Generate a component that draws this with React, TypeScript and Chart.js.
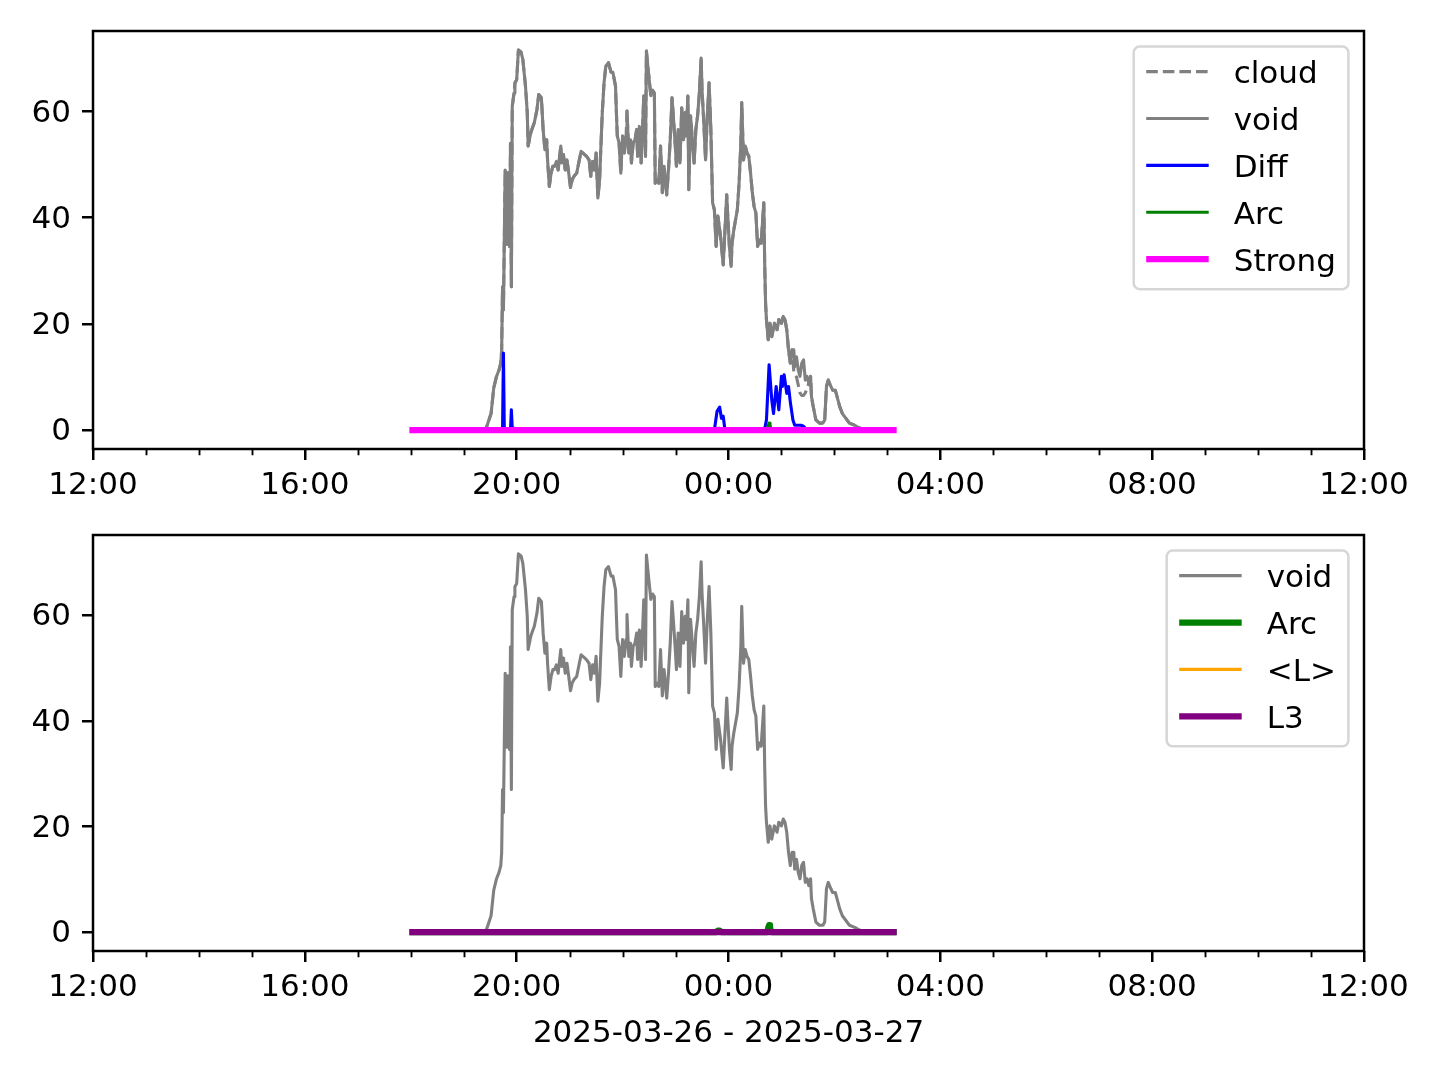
import React, { useEffect, useRef } from "react";
import { Chart, registerables } from "chart.js";

Chart.register(...registerables);

const FONT_FAMILY = "'DejaVu Sans', sans-serif";
const FONT_SIZE = 31;

// ---------------- data ----------------
const voidTimes = [
  "18:02", "19:24", "19:26", "19:31", "19:34", "19:37", "19:40", "19:42", "19:43", "19:44",
  "19:45", "19:47", "19:49", "19:50", "19:52", "19:53", "19:54", "19:55", "19:57", "19:58",
  "20:00", "20:02", "20:05", "20:07", "20:10", "20:12", "20:13", "20:16", "20:18", "20:20",
  "20:23", "20:25", "20:28", "20:30", "20:32", "20:34", "20:35", "20:37", "20:39", "20:41",
  "20:43", "20:45", "20:47", "20:50", "20:51", "20:53", "20:55", "20:57", "20:59", "21:01",
  "21:03", "21:05", "21:08", "21:11", "21:13", "21:17", "21:19", "21:22", "21:24", "21:26",
  "21:28", "21:30", "21:32", "21:34", "21:35", "21:37", "21:39", "21:41", "21:44", "21:47",
  "21:49", "21:52", "21:53", "21:54", "21:56", "21:58", "22:00", "22:02", "22:04", "22:05",
  "22:07", "22:09", "22:10", "22:12", "22:14", "22:16", "22:17", "22:19", "22:21", "22:23",
  "22:24", "22:26", "22:27", "22:29", "22:32", "22:34", "22:36", "22:37", "22:40", "22:41",
  "22:43", "22:45", "22:47", "22:50", "22:52", "22:54", "22:56", "22:58", "23:00", "23:01",
  "23:03", "23:05", "23:07", "23:09", "23:11", "23:12", "23:14", "23:15", "23:17", "23:19",
  "23:21", "23:23", "23:25", "23:27", "23:29", "23:30", "23:32", "23:34", "23:36", "23:38",
  "23:40", "23:42", "23:44", "23:46", "23:48", "23:51", "23:54", "23:56", "23:58", "23:59",
  "00:01", "00:03", "00:04", "00:06", "00:08", "00:10", "00:12", "00:14", "00:15", "00:17",
  "00:19", "00:21", "00:23", "00:25", "00:27", "00:29", "00:31", "00:33", "00:35", "00:37",
  "00:38", "00:40", "00:41", "00:42", "00:43", "00:45", "00:47", "00:49", "00:52", "00:55",
  "00:57", "01:00", "01:02", "01:04", "01:06", "01:08", "01:10", "01:12", "01:14", "01:15",
  "01:17", "01:19", "01:21", "01:23", "01:25", "01:27", "01:29", "01:31", "01:33", "01:34",
  "01:36", "01:39", "01:43", "01:47", "01:49", "01:51", "01:53", "01:56", "01:58", "02:01",
  "02:03", "02:06", "02:09", "02:13", "02:17", "02:23", "02:26", "02:31", "02:40", "03:07",
];
const voidValues = [
  0, 0, 0.6, 3.1, 7.9, 10, 11.3, 12.6, 15, 27,
  22.6, 49, 35, 48.5, 34.6, 54, 27, 61, 63.5, 65.4,
  66, 71.6, 71.2, 69.8, 64.8, 59.8, 53.5, 56, 57, 57.9,
  60.4, 63.2, 62.6, 56.6, 52.8, 54.7, 50.9, 45.9, 48.4, 49.7,
  49.7, 50.6, 49, 53.5, 50.3, 51.9, 49, 50.9, 48.4, 45.7,
  47.2, 47.8, 48.4, 50.9, 52.5, 51.9, 51.6, 50.9, 47.8, 50.6,
  49, 52.2, 43.7, 47.2, 51.6, 59.8, 65.4, 68.6, 69.2, 67.4,
  67.4, 64.8, 59.8, 55.4, 54.1, 48.4, 55.4, 52.2, 55.4, 60.1,
  52.2, 54.7, 50.3, 54.1, 54.7, 56.6, 51.6, 57.2, 50.3, 58.5,
  62.9, 51.6, 71.4, 67.9, 63, 64, 63.5, 46.5, 47.2, 46.5,
  53.5, 44.7, 49.7, 44.3, 49, 54.7, 62.6, 57.9, 52.8, 49.7,
  56.6, 50.3, 60.7, 54.7, 59.8, 55.4, 62.9, 45.3, 59.2, 54.7,
  50.3, 56.6, 59.2, 63.5, 70.1, 64.2, 57.9, 50.9, 59.2, 65.4,
  56.6, 42.8, 41.5, 34.6, 40.3, 36.5, 31.1, 37.7, 44.3, 40.9,
  34.6, 30.8, 35.2, 37.7, 39.6, 41.5, 46.5, 54.1, 61.7, 50.9,
  53.5, 52.2, 51.6, 48.4, 44.7, 42.1, 40.9, 34.6, 35.8, 35.2,
  37.7, 42.8, 31.4, 23.9, 20.8, 17, 20.1, 17.6, 20.1, 18.9,
  20.8, 20.1, 21.4, 20.8, 18.9, 15.1, 12.6, 15.1, 15.1, 11.9,
  13.8, 11.3, 10.1, 12.6, 13.2, 9.4, 10.1, 8.8, 10.1, 6.3,
  4.4, 1.9, 1.3, 1.3, 1.9, 8.2, 9.4, 8.2, 7.5, 7.5,
  6.3, 4.4, 3.1, 2.2, 1.3, 0.9, 0.6, 0.2, 0, 0,
];
// cloud shares void's time stamps
const cloudValues = [
  0, 0, 0.6, 3.1, 7.9, 10, 11.3, 12.6, 15, 27,
  22.6, 49, 35, 48.5, 34.6, 54, 27, 61, 63.5, 65.4,
  66, 71.6, 71.2, 69.8, 64.8, 59.8, 53.5, 56, 57, 57.9,
  60.4, 63.2, 62.6, 56.6, 52.8, 54.7, 50.9, 45.9, 48.4, 49.7,
  49.7, 50.6, 49, 53.5, 50.3, 51.9, 49, 50.9, 48.4, 45.7,
  47.2, 47.8, 48.4, 50.9, 52.5, 51.9, 51.6, 50.9, 47.8, 50.6,
  49, 52.2, 43.7, 47.2, 51.6, 59.8, 65.4, 68.6, 69.2, 67.4,
  67.4, 64.8, 59.8, 55.4, 54.1, 48.4, 55.4, 52.2, 55.4, 60.1,
  52.2, 54.7, 50.3, 54.1, 54.7, 56.6, 51.6, 57.2, 50.3, 58.5,
  62.9, 51.6, 71.4, 67.9, 63, 64, 63.5, 46.5, 47.2, 46.5,
  53.5, 44.7, 49.7, 44.3, 49, 54.7, 62.6, 57.9, 52.8, 49.7,
  56.6, 50.3, 60.7, 54.7, 59.8, 55.4, 62.9, 45.3, 59.2, 54.7,
  50.3, 56.6, 59.2, 63.5, 70.1, 64.2, 57.9, 50.9, 59.2, 65.4,
  56.6, 42.8, 41.5, 34.6, 40.3, 36.5, 31.1, 37.7, 44.3, 40.9,
  34.6, 30.8, 35.2, 37.7, 39.6, 41.5, 46.5, 54.1, 61.7, 50.9,
  53.5, 52.2, 51.6, 48.4, 44.7, 42.1, 40.9, 34.6, 35.8, 35.2,
  37.7, 42.8, 31.4, 23.9, 20.8, 17, 20.1, 17.6, 20.1, 18.9,
  20.8, 20.1, 21.4, 20.8, 18.9, 15.1, 12.6, 15.1, 11, 10.5,
  10, 8.5, 7, 6.5, 6.5, 7, 7.8, 8.8, 10.1, 6.3,
  4.4, 1.9, 1.3, 1.3, 1.9, 8.2, 9.4, 8.2, 7.5, 7.5,
  6.3, 4.4, 3.1, 2.2, 1.3, 0.9, 0.6, 0.2, 0, 0,
];

const diffTimes = [
  "18:02", "19:44", "19:45", "19:46", "19:53", "19:54", "19:55", "19:57", "19:58",
  "23:44", "23:47", "23:50", "23:52", "23:54", "23:56",
  "00:41", "00:43", "00:46", "00:49", "00:51", "00:54", "00:57", "01:00", "01:01", "01:03",
  "01:06", "01:08", "01:10", "01:13", "01:15", "01:22", "01:25", "01:29", "03:07",
];
const diffValues = [
  0, 0, 14.5, 0, 0, 3.8, 0.3, 0.3, 0,
  0, 3.5, 4.3, 2.2, 2.6, 0,
  0.2, 1.9, 12.3, 5.7, 3.1, 8.2, 3.8, 10.1, 8.2, 10.4,
  6.9, 8.2, 5.3, 1.9, 0.9, 0.9, 0.7, 0, 0,
];

const arcTimes = ["18:02", "23:46", "23:48", "23:50", "23:52", "00:44", "00:45", "00:46", "00:47", "00:48", "00:49", "03:07"];
const arcValues = [0, 0, 0.3, 0.3, 0, 0, 0.8, 1.3, 1.0, 0.2, 0, 0];

const flatTimes = ["18:02", "03:07"];
const strongValues = [0, 0];
const meanLValues = [0, 0];
const l3Values = [0, 0];

const xTickHours = [0, 4, 8, 12, 16, 20, 24]; // hours after 12:00 on 2025-03-26
const xMinorHours = [1, 2, 3, 5, 6, 7, 9, 10, 11, 13, 14, 15, 17, 18, 19, 21, 22, 23];
const yTickValues = [0, 20, 40, 60];
const xAxisTitle = "2025-03-26 - 2025-03-27";

// ---------------- helpers ----------------
const GRAY = "#808080";
const BLUE = "#0000ff";
const GREEN = "#008000";
const MAGENTA = "#ff00ff";
const ORANGE = "#ffa500";
const PURPLE = "#800080";

function toHours(t: string): number {
  const [h, m] = t.split(":").map(Number);
  let v = h + m / 60 - 12;
  if (v < 0) v += 24;
  return v;
}
function series(times: string[], values: number[]) {
  return times.map((t, i) => ({ x: toHours(t), y: values[i] }));
}
function fmtHour(v: number): string {
  const c = (12 + Math.round(v)) % 24;
  return String(c).padStart(2, "0") + ":00";
}

const allValues = [...voidValues, ...cloudValues, ...diffValues, ...arcValues, ...strongValues, ...meanLValues, ...l3Values];
const dMin = Math.min(...allValues);
const dMax = Math.max(...allValues);
const Y_MIN = dMin - (dMax - dMin) * 0.05;
const Y_MAX = dMax + (dMax - dMin) * 0.05;

function line(label: string, data: any[], color: string, width: number, extra: any = {}) {
  return {
    label,
    data,
    borderColor: color,
    backgroundColor: color,
    borderWidth: width,
    pointRadius: 0,
    pointHoverRadius: 0,
    tension: 0,
    fill: false,
    borderJoinStyle: "round",
    borderCapStyle: "square",
    ...extra,
  };
}

const LW1 = 3.1;
const LW2 = 6.25;

const decorPlugin = {
  id: "mplDecor",
  afterDraw(chart: any) {
    const { ctx, chartArea: a, scales } = chart;
    const xs = scales.x;
    ctx.save();
    // minor x ticks
    ctx.strokeStyle = "#000";
    ctx.lineWidth = 1.9;
    for (const h of xMinorHours) {
      const px = Math.round(xs.getPixelForValue(h)) + 0.5;
      ctx.beginPath();
      ctx.moveTo(px, a.bottom);
      ctx.lineTo(px, a.bottom + 6.25);
      ctx.stroke();
    }
    // axes frame
    ctx.lineWidth = 2.5;
    ctx.strokeRect(a.left, a.top, a.right - a.left, a.bottom - a.top);

    // legend
    const ds = chart.data.datasets;
    ctx.font = `${FONT_SIZE}px ${FONT_FAMILY}`;
    let textW = 0;
    for (const d of ds) textW = Math.max(textW, ctx.measureText(d.label).width);
    const pad = 12.5, handleLen = 62.5, handleGap = 25, step = 46.9;
    const boxW = pad + handleLen + handleGap + textW + pad;
    const boxH = 25 + (ds.length - 1) * step + 30;
    const right = a.right - 15.6;
    const left = right - boxW;
    const top = a.top + 15.6;
    ctx.beginPath();
    (ctx as any).roundRect(left, top, boxW, boxH, 6);
    ctx.fillStyle = "rgba(255,255,255,0.8)";
    ctx.fill();
    ctx.strokeStyle = "rgba(204,204,204,0.8)";
    ctx.lineWidth = 2.5;
    ctx.stroke();
    ds.forEach((d: any, i: number) => {
      const y = top + 25 + i * step;
      ctx.beginPath();
      ctx.strokeStyle = d.borderColor;
      ctx.lineWidth = d.borderWidth;
      ctx.lineCap = "butt";
      ctx.setLineDash(d.borderDash || []);
      ctx.moveTo(left + pad, y);
      ctx.lineTo(left + pad + handleLen, y);
      ctx.stroke();
      ctx.setLineDash([]);
      ctx.fillStyle = "#000";
      ctx.textAlign = "left";
      ctx.textBaseline = "alphabetic";
      ctx.fillText(d.label, left + pad + handleLen + handleGap, y + 11.4);
    });
    ctx.restore();
  },
};

function makeConfig(datasets: any[], padTop: number, xHeight: number, withTitle: boolean) {
  const font = { family: FONT_FAMILY, size: FONT_SIZE };
  const grid = {
    display: true,
    drawOnChartArea: false,
    drawTicks: true,
    tickLength: 11,
    tickWidth: 2.5,
    tickColor: "#000",
    color: "#000",
    lineWidth: 2.5,
  };
  return {
    type: "line",
    data: { datasets: datasets.map((d, i, arr) => ({ ...d, order: arr.length - i })) },
    plugins: [decorPlugin],
    options: {
      animation: false,
      responsive: false,
      devicePixelRatio: 1,
      events: [],
      parsing: true,
      layout: { padding: { top: padTop, right: 76, left: 0, bottom: 0 } },
      plugins: { legend: { display: false }, tooltip: { enabled: false }, title: { display: false } },
      scales: {
        x: {
          type: "linear",
          position: "bottom",
          min: 0,
          max: 24,
          afterBuildTicks: (s: any) => {
            s.ticks = xTickHours.map((v) => ({ value: v }));
          },
          afterFit: (s: any) => {
            s.height = xHeight;
          },
          grid,
          border: { display: false },
          ticks: {
            callback: (v: any) => fmtHour(Number(v)),
            color: "#000",
            font,
            padding: 7,
            maxRotation: 0,
            minRotation: 0,
            autoSkip: false,
          },
          title: {
            display: withTitle,
            text: xAxisTitle,
            color: "#000",
            font,
            padding: { top: 0, bottom: 27.4 },
          },
        },
        y: {
          type: "linear",
          position: "left",
          min: Y_MIN,
          max: Y_MAX,
          afterBuildTicks: (s: any) => {
            s.ticks = yTickValues.map((v) => ({ value: v }));
          },
          afterFit: (s: any) => {
            s.width = 93;
          },
          grid,
          border: { display: false },
          ticks: {
            callback: (v: any) => String(v),
            color: "#000",
            font,
            padding: 11,
            labelOffset: 2,
            autoSkip: false,
          },
        },
      },
    },
  };
}

function Panel(props: { top: number; height: number; padTop: number; xHeight: number; datasets: any[]; withTitle: boolean }) {
  const ref = useRef<HTMLCanvasElement>(null);
  useEffect(() => {
    if (!ref.current) return;
    const chart = new Chart(ref.current, makeConfig(props.datasets, props.padTop, props.xHeight, props.withTitle) as any);
    return () => chart.destroy();
  }, []);
  return (
    <canvas
      ref={ref}
      width={1440}
      height={props.height}
      style={{ position: "absolute", left: 0, top: props.top, width: 1440, height: props.height }}
    />
  );
}

const topDatasets = [
  line("cloud", series(voidTimes, cloudValues), GRAY, LW1, { borderDash: [11.6, 5], borderCapStyle: "butt" }),
  line("void", series(voidTimes, voidValues), GRAY, LW1),
  line("Diff", series(diffTimes, diffValues), BLUE, LW1),
  line("Arc", series(arcTimes, arcValues), GREEN, LW1),
  line("Strong", series(flatTimes, strongValues), MAGENTA, LW2),
];

const bottomDatasets = [
  line("void", series(voidTimes, voidValues), GRAY, LW1),
  line("Arc", series(arcTimes, arcValues), GREEN, LW2),
  line("<L>", series(flatTimes, meanLValues), ORANGE, LW1),
  line("L3", series(flatTimes, l3Values), PURPLE, LW2),
];

export default function App() {
  return (
    <div style={{ position: "absolute", left: 0, top: 0, width: 1440, height: 1080, background: "#fff", overflow: "hidden" }}>
      <Panel top={0} height={504} padTop={31} xHeight={55} datasets={topDatasets} withTitle={false} />
      <Panel top={504} height={576} padTop={31} xHeight={129} datasets={bottomDatasets} withTitle={true} />
    </div>
  );
}
